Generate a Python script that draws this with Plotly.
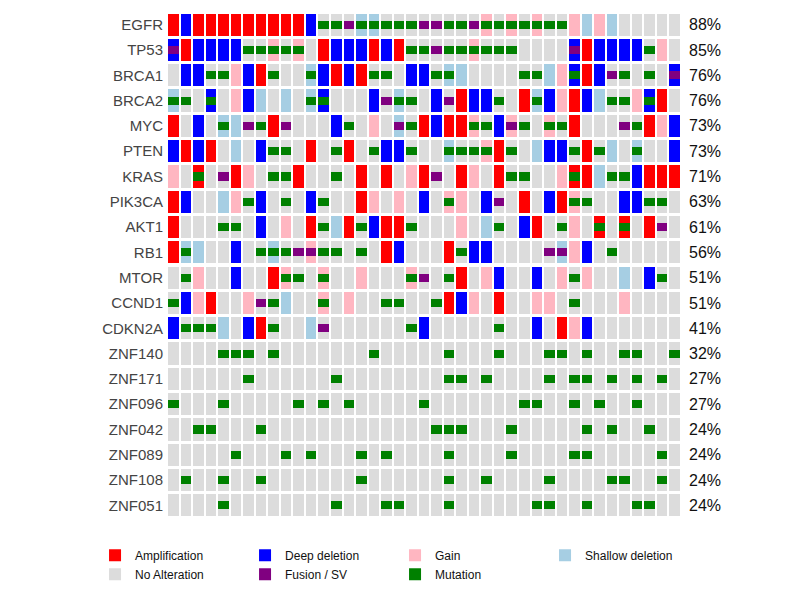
import plotly.graph_objects as go

genes = ["EGFR","TP53","BRCA1","BRCA2","MYC","PTEN","KRAS","PIK3CA","AKT1","RB1",
         "MTOR","CCND1","CDKN2A","ZNF140","ZNF171","ZNF096","ZNF042","ZNF089","ZNF108","ZNF051"]
n_samples = 41

# Cell codes: A amp, D deep del, G gain, S shallow del, N none; suffix m mutation, f fusion
EGFR   = "A D A A A A A A A A A D Nm Nm Nf Sm Sm Nm Nm Nm Nf Nf Nm Nm Nf Gm Nm Gm Nm Gm Nm Nm G S G S N N N N N"
TP53   = "Df A D D D D Nm Nm Gm Nm Gm N A D D D A D A Nm Nm Nf Nm Nm Gm Nm Nm Nm N N N N Df A D D D D Nm G N"
BRCA1  = "N D D Nm Nm G D A Nm N N Sm D A D A Nm Nm N D D Nm Sm S N N N N Nm Nm S G Dm A D Nf Nm N Nm N Df"
BRCA2  = "Sm Nm N Dm N G D S N S N Sm Dm N N N D Nf Sm Nm N D Nf A D D Nm N A Sm D G A D S Nm Nm G Dm A N"
MYC    = "A N D N Sm S Nf Nm A Nf N N N D Nm N G N Sf Nm A D A A Gm Nm D Gf Nm N Gm Nm A N N N Nf Nm A G D"
PTEN   = "D A D A N S N D Nm Nm N A N Nm A N Nm D D Nm N N Sm Nm Nm Gm A Nm N S D D Nm A Nm S N Sm N N D"
KRAS   = "G N Am N Nf A G N Nm Nm A N N Nm N A N A N G A Nf N A G N A Nm Nm N N G Am A S Nm Nm D A A A"
PIK3CA = "A D N N S G Nm D N Nm N D Nm N N A G N G N D N Gm G N D Nf N A N D A Gm Nm N N D D Nm Nm N"
AKT1   = "A N N N Nm Nm N D N G N A Nm S A Nm D A A Nm N N N G N S Nm N D A N Nm G N Am N Am N A Nf N"
RB1    = "A Sm S N N D N Nm Sm Nm Nf Gf Nm Nm N Nm N A D N N N A Nm D D N N N N Nf Sf G D N Nm N N N N N"
MTOR   = "N Nm G N N D N N A Gm Nm N Gm N N G N N N Gm Nf N Nm A N G D N N D N G Nm G N N S N D Nm N"
CCND1  = "Nm D G A N N G Nf Nm S N N Gm N G N N Nm Nm N N Nm A D G N A N N G G N Nm N N N G N N N N"
CDKN2A = "D Nm Nm Nm S N D A Nm N N S Nf N N N N N N Nm D N N N N N Nm N N D N A G D N N N N N N N"
ZNF140 = [4,5,6,8,16,22,26,30,31,33,36,37,40]
ZNF171 = [6,13,22,23,25,30,32,33,35,37,39]
ZNF096 = [0,4,10,12,14,20,28,29,32,34,37]
ZNF042 = [2,3,7,21,22,23,27,33,35,38]
ZNF089 = [5,9,11,15,17,22,27,32,33,39]
ZNF108 = [1,4,7,15,22,25,30,35,36,39]
ZNF051 = [4,13,17,18,22,29,30,33,37,38]

def mut_row(idx):
    return ["Nm" if i in idx else "N" for i in range(n_samples)]

rows = [r.split() for r in [EGFR,TP53,BRCA1,BRCA2,MYC,PTEN,KRAS,PIK3CA,AKT1,RB1,MTOR,CCND1,CDKN2A]]
rows += [mut_row(z) for z in [ZNF140,ZNF171,ZNF096,ZNF042,ZNF089,ZNF108,ZNF051]]

pct = [f"{round(100*sum(1 for c in r if c != 'N')/n_samples)}%" for r in rows]

base_types = [("A","Amplification","#ff0000",1),("D","Deep deletion","#0000ff",2),
              ("G","Gain","#ffb6c1",3),("S","Shallow deletion","#a6cee3",4),
              ("N","No Alteration","#dcdcdc",5)]
over_types = [("f","Fusion / SV","#800080",6),("m","Mutation","#008000",7)]

fig = go.Figure()
H, W = 0.88, 0.84
for code, name, col, rank in sorted(base_types, key=lambda t: t[0] != "N"):
    xs, bs = [], []
    for gi, r in enumerate(rows):
        for si, c in enumerate(r):
            if c[0] == code:
                xs.append(si); bs.append(gi - H/2)
    fig.add_trace(go.Bar(x=xs, y=[H]*len(xs), base=bs, width=W, name=name,
                         marker=dict(color=col, line=dict(width=0)), legendrank=rank,
                         hoverinfo="skip"))
OH = 0.32
for code, name, col, rank in over_types:
    xs, bs = [], []
    for gi, r in enumerate(rows):
        for si, c in enumerate(r):
            if len(c) > 1 and c[1] == code:
                xs.append(si); bs.append(gi - OH/2)
    fig.add_trace(go.Bar(x=xs, y=[OH]*len(xs), base=bs, width=W, name=name,
                         marker=dict(color=col, line=dict(width=0)), legendrank=rank,
                         hoverinfo="skip"))
fig.add_trace(go.Scatter(x=[0], y=[0], yaxis="y2", mode="markers", marker=dict(opacity=0),
                         showlegend=False, hoverinfo="skip"))

yr = [len(genes) - 0.5, -0.5]
fig.update_layout(
    width=800, height=600, barmode="overlay", bargap=0,
    paper_bgcolor="white", plot_bgcolor="white",
    margin=dict(l=159, r=127, t=4, b=90, autoexpand=False),
    font=dict(family="Liberation Sans, Arial, sans-serif"),
    xaxis=dict(range=[-0.5, n_samples - 0.5], showticklabels=False, showgrid=False,
               zeroline=False, automargin=False),
    yaxis=dict(range=yr, tickvals=list(range(len(genes))), ticktext=genes, showgrid=False,
               zeroline=False, ticks="", automargin=False, ticklabelstandoff=3,
               tickfont=dict(size=15, color="#444")),
    yaxis2=dict(range=yr, overlaying="y", side="right", tickvals=list(range(len(genes))),
                ticktext=pct, showgrid=False, zeroline=False, ticks="", automargin=False,
                ticklabelstandoff=7, tickfont=dict(size=16, color="#111")),
    legend=dict(orientation="h", x=-0.14, y=-0.045, xanchor="left", yanchor="top",
                entrywidth=105, font=dict(size=12, color="#111"), traceorder="normal",
                tracegroupgap=0),
)
fig.write_html("out.html")
